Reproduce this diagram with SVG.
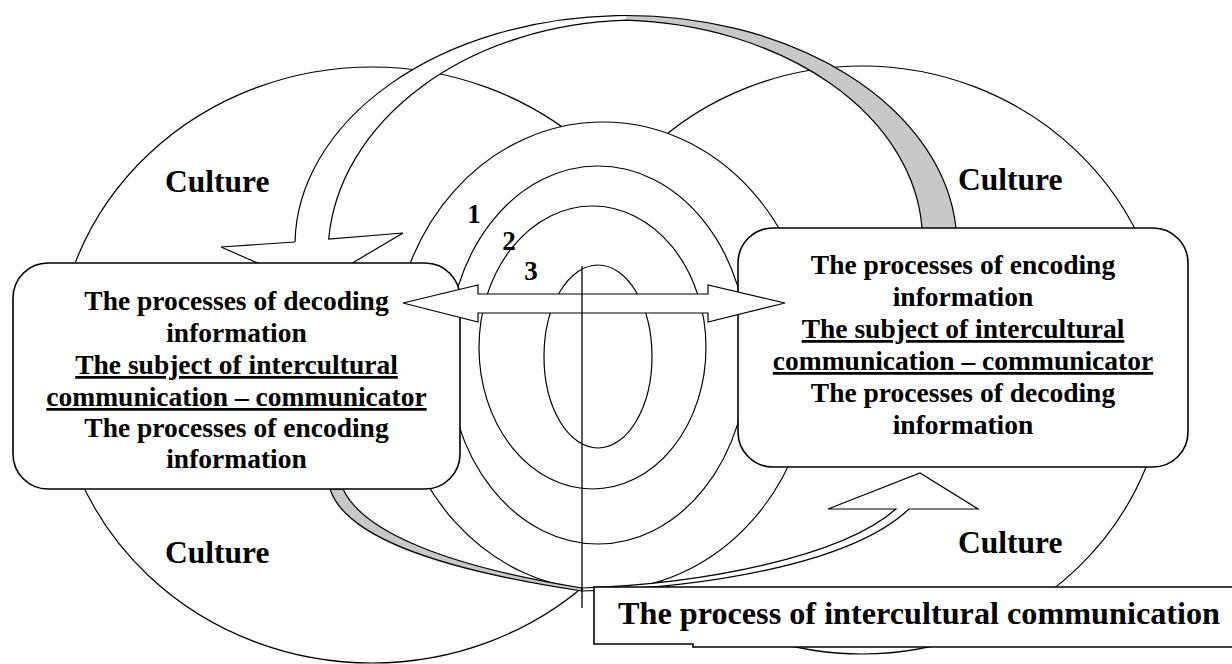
<svg xmlns="http://www.w3.org/2000/svg" width="1232" height="664" viewBox="0 0 1232 664">
<style>
.ln{fill:#fff;stroke:#000;stroke-width:1.2}
.nf{fill:none;stroke:#000;stroke-width:1.2}
.box{fill:#fff;stroke:#000;stroke-width:1.6}
.t{font-family:"Liberation Serif","Times New Roman",serif;font-weight:bold;fill:#000}
.bt{font-size:27.5px;text-anchor:middle}
.u{text-decoration:underline}
.cu{font-size:31.5px}
.num{font-size:27px;text-anchor:middle}
.gray{fill:#c8c8c8;stroke:none}
.wf{fill:#fff;stroke:none}
</style>
<rect width="1232" height="664" fill="#fff"/>
<g id="culture-left">
<ellipse cx="372" cy="365" rx="316" ry="298" class="ln"/>
<text class="t cu" x="165" y="192">Culture</text>
<text class="t cu" x="165" y="563">Culture</text>
</g>
<g id="culture-right">
<ellipse cx="862" cy="360" rx="305" ry="294" class="ln"/>
<text class="t cu" x="958" y="190">Culture</text>
<text class="t cu" x="958" y="553">Culture</text>
</g>
<g id="levels">
<ellipse cx="603" cy="356" rx="210" ry="234" class="ln"/>
<ellipse cx="598" cy="355" rx="150" ry="189" class="ln"/>
<ellipse cx="592.5" cy="347.5" rx="113.5" ry="141.5" class="ln"/>
<ellipse cx="598" cy="356.5" rx="54" ry="91.5" class="ln"/>
<text class="t num" x="474" y="223">1</text>
<text class="t num" x="509" y="250">2</text>
<text class="t num" x="531" y="280">3</text>
</g>
<g id="connectors">
<g id="top-curved-arrow">
<path class="wf" d="M295,242 A331 230 0 0 1 626,15 L626,20.2 A310 235 0 0 0 328.7,239 L403,233 L312,287 L221,247 Z"/>
<path class="gray" d="M626,15 A331 230 0 0 1 956,228 L922,228 A310 220 0 0 0 626,20.2 Z"/>
<path class="nf" d="M295,242 A331 230 0 0 1 956,228"/>
<path class="nf" d="M295,242 L221,247 L312,287 L403,233 L328.7,239 A310 235 0 0 1 626,20.2 A310 220 0 0 1 922,228"/>
</g>
<g id="bottom-curved-arrow">
<path d="M330,489 C345,535 430,568 582,591 L582,588 C440,565 362,530 343,489 Z" fill="#c8c8c8" stroke="#000" stroke-width="1.2"/>
<path class="ln" d="M582,591 C700,588 850,565 909,509 L978,509 L920,473 L828,509 L896,509 C840,558 700,584 582,588 Z"/>
</g>
</g>
<g id="left-box">
<rect class="box" x="13" y="263" width="447" height="226" rx="35" ry="35"/>
<text class="t bt" x="236.5" y="310">The processes of decoding</text>
<text class="t bt" x="236.5" y="342">information</text>
<text class="t bt u" x="236.5" y="374">The subject of intercultural</text>
<text class="t bt u" x="236.5" y="406">communication – communicator</text>
<text class="t bt" x="236.5" y="437">The processes of encoding</text>
<text class="t bt" x="236.5" y="468">information</text>
</g>
<g id="right-box">
<rect class="box" x="738" y="228" width="450" height="239" rx="35" ry="35"/>
<text class="t bt" x="963" y="274">The processes of encoding</text>
<text class="t bt" x="963" y="306">information</text>
<text class="t bt u" x="963" y="338">The subject of intercultural</text>
<text class="t bt u" x="963" y="370">communication – communicator</text>
<text class="t bt" x="963" y="402">The processes of decoding</text>
<text class="t bt" x="963" y="434">information</text>
</g>
<g id="connectors-front">
<path class="ln" d="M403,303 L478,285 L478,294 L708,294 L708,285 L785,303 L708,322 L708,313 L478,313 L478,322 Z"/>
<line x1="582" y1="266" x2="582" y2="608" stroke="#000" stroke-width="1.3"/>
</g>
<g id="process-label">
<path class="box" d="M594,587 H1240 V647 H693 V644 H594 Z"/>
<text class="t" x="618" y="624" font-size="32" textLength="602" lengthAdjust="spacingAndGlyphs">The process of intercultural communication</text>
</g>
</svg>
